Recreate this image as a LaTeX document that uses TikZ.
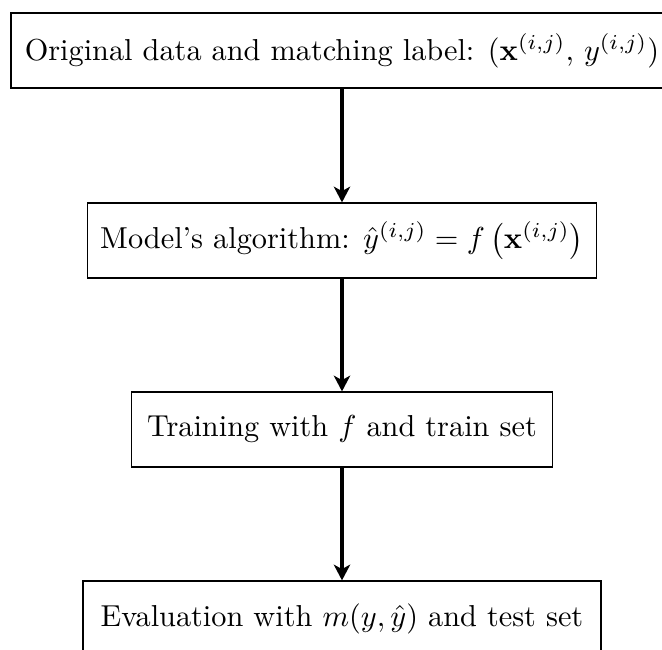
\documentclass[tikz,border=0pt]{standalone}
\usepackage{amsmath}
\usetikzlibrary{arrows.meta}
\begin{document}
\begin{tikzpicture}[x=0.33pt,y=-0.33pt,
  stagebox/.style={draw=black, line width=0.4pt, rectangle, inner xsep=1pt,
    inner ysep=0pt, minimum height=24.75pt, align=center},
  flowarrow/.style={line width=1.4pt,
    -{Stealth[length=5.2pt,width=5.4pt,inset=1.5pt]}}]
  \useasboundingbox (0,0) rectangle (662,650);

  \node[stagebox, minimum width=218.5pt] (data) at (342,50.5)
    {Original data and matching label: $(\mathbf{x}^{(i,j)}$, $y^{(i,j)})$};
  \node[stagebox, minimum width=168pt] (model) at (342,240.5)
    {Model's algorithm: $\hat{y}^{(i,j)} = f\left(\mathbf{x}^{(i,j)}\right)$};
  \node[stagebox, minimum width=138.9pt] (train) at (342,429.5)
    {Training with $f$ and train set};
  \node[stagebox, minimum width=170.9pt] (eval) at (342,618.5)
    {Evaluation with $m(y,\hat{y})$ and test set};

  \draw[flowarrow] (data.south) -- (model.north);
  \draw[flowarrow] (model.south) -- (train.north);
  \draw[flowarrow] (train.south) -- (eval.north);
\end{tikzpicture}
\end{document}
